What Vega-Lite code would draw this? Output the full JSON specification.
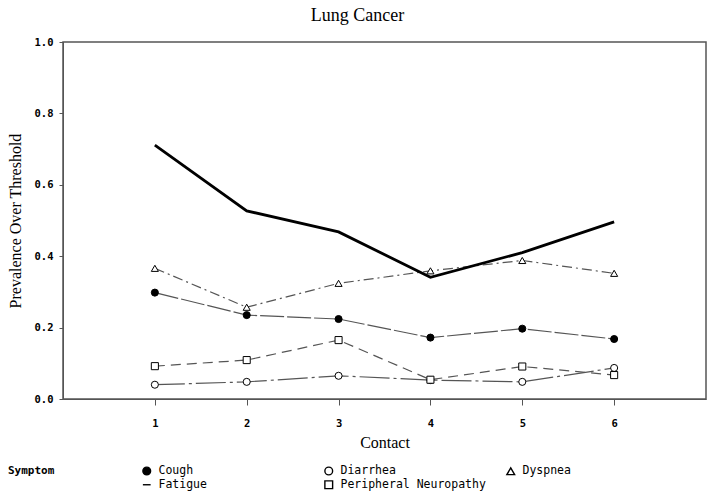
{
  "$schema": "https://vega.github.io/schema/vega-lite/v6.json",
  "width": 643,
  "height": 357,
  "autosize": {"type": "none"},
  "padding": {"left": 63, "top": 42, "right": 8, "bottom": 95},
  "background": "white",
  "title": {
    "text": "Lung Cancer",
    "font": "Liberation Serif",
    "fontSize": 18,
    "fontWeight": "normal",
    "color": "black",
    "anchor": "middle",
    "dx": -27,
    "offset": 12
  },
  "config": {
    "view": {"stroke": "#555", "strokeWidth": 1.5},
    "axis": {
      "labelFont": "DejaVu Sans Mono",
      "labelFontWeight": "bold",
      "labelFontSize": 10.5,
      "labelColor": "black",
      "titleFont": "Liberation Serif",
      "titleFontSize": 16,
      "titleFontWeight": "normal",
      "titleColor": "black",
      "domainColor": "#555",
      "tickColor": "#555",
      "grid": false
    }
  },
  "data": {
    "values": [
      {"Contact": 1, "Symptom": "Cough", "Prevalence": 0.298},
      {"Contact": 2, "Symptom": "Cough", "Prevalence": 0.235},
      {"Contact": 3, "Symptom": "Cough", "Prevalence": 0.224},
      {"Contact": 4, "Symptom": "Cough", "Prevalence": 0.172},
      {"Contact": 5, "Symptom": "Cough", "Prevalence": 0.197},
      {"Contact": 6, "Symptom": "Cough", "Prevalence": 0.168},
      {"Contact": 1, "Symptom": "Diarrhea", "Prevalence": 0.04},
      {"Contact": 2, "Symptom": "Diarrhea", "Prevalence": 0.048},
      {"Contact": 3, "Symptom": "Diarrhea", "Prevalence": 0.065},
      {"Contact": 4, "Symptom": "Diarrhea", "Prevalence": 0.053},
      {"Contact": 5, "Symptom": "Diarrhea", "Prevalence": 0.048},
      {"Contact": 6, "Symptom": "Diarrhea", "Prevalence": 0.087},
      {"Contact": 1, "Symptom": "Dyspnea", "Prevalence": 0.366},
      {"Contact": 2, "Symptom": "Dyspnea", "Prevalence": 0.257},
      {"Contact": 3, "Symptom": "Dyspnea", "Prevalence": 0.324},
      {"Contact": 4, "Symptom": "Dyspnea", "Prevalence": 0.359},
      {"Contact": 5, "Symptom": "Dyspnea", "Prevalence": 0.388},
      {"Contact": 6, "Symptom": "Dyspnea", "Prevalence": 0.352},
      {"Contact": 1, "Symptom": "Fatigue", "Prevalence": 0.711},
      {"Contact": 2, "Symptom": "Fatigue", "Prevalence": 0.527},
      {"Contact": 3, "Symptom": "Fatigue", "Prevalence": 0.468},
      {"Contact": 4, "Symptom": "Fatigue", "Prevalence": 0.341},
      {"Contact": 5, "Symptom": "Fatigue", "Prevalence": 0.41},
      {"Contact": 6, "Symptom": "Fatigue", "Prevalence": 0.496},
      {"Contact": 1, "Symptom": "Peripheral Neuropathy", "Prevalence": 0.092},
      {"Contact": 2, "Symptom": "Peripheral Neuropathy", "Prevalence": 0.109},
      {"Contact": 3, "Symptom": "Peripheral Neuropathy", "Prevalence": 0.165},
      {"Contact": 4, "Symptom": "Peripheral Neuropathy", "Prevalence": 0.054},
      {"Contact": 5, "Symptom": "Peripheral Neuropathy", "Prevalence": 0.091},
      {"Contact": 6, "Symptom": "Peripheral Neuropathy", "Prevalence": 0.067}
    ]
  },
  "encoding": {
    "x": {
      "field": "Contact",
      "type": "quantitative",
      "scale": {"domain": [0, 7], "nice": false, "zero": false},
      "axis": {
        "values": [1, 2, 3, 4, 5, 6],
        "format": "d",
        "title": "Contact",
        "tickSize": 6,
        "labelPadding": 13,
        "titlePadding": 6
      }
    },
    "y": {
      "field": "Prevalence",
      "type": "quantitative",
      "scale": {"domain": [0, 1], "nice": false},
      "axis": {
        "values": [0, 0.2, 0.4, 0.6, 0.8, 1.0],
        "format": ".1f",
        "title": "Prevalence Over Threshold",
        "tickSize": 4,
        "labelPadding": 6,
        "titlePadding": 11
      }
    }
  },
  "layer": [
    {
      "transform": [{"filter": "datum.Symptom !== 'Fatigue'"}],
      "mark": {"type": "line", "stroke": "#555555", "strokeWidth": 1.2},
      "encoding": {
        "strokeDash": {
          "field": "Symptom",
          "type": "nominal",
          "scale": {
            "domain": ["Cough", "Diarrhea", "Dyspnea", "Peripheral Neuropathy"],
            "range": [[24, 3], [30, 4, 3, 4], [10, 4, 2, 4], [10, 6]]
          },
          "legend": null
        }
      }
    },
    {
      "transform": [{"filter": "datum.Symptom === 'Fatigue'"}],
      "mark": {"type": "line", "stroke": "black", "strokeWidth": 2.8},
      "encoding": {"detail": {"field": "Symptom"}}
    },
    {
      "transform": [{"filter": "datum.Symptom !== 'Fatigue'"}],
      "mark": {"type": "point", "filled": true, "stroke": "black", "strokeWidth": 1, "size": 50, "opacity": 1},
      "encoding": {
        "shape": {
          "field": "Symptom",
          "type": "nominal",
          "title": "Symptom",
          "scale": {
            "domain": ["Cough", "Diarrhea", "Dyspnea", "Fatigue", "Peripheral Neuropathy"],
            "range": ["circle", "circle", "triangle-up", "stroke", "square"]
          },
          "legend": {
            "orient": "none",
            "legendX": -55,
            "legendY": 423,
            "direction": "horizontal",
            "columns": 3,
            "gridAlign": "all",
            "columnPadding": 18,
            "rowPadding": 0,
            "titleOrient": "left",
            "titleAnchor": "start",
            "titleBaseline": "top",
            "titlePadding": 86,
            "titleFont": "DejaVu Sans Mono",
            "titleFontSize": 11,
            "titleFontWeight": "bold",
            "titleColor": "black",
            "labelFont": "DejaVu Sans Mono",
            "labelFontSize": 11.5,
            "labelColor": "black",
            "labelOffset": 6,
            "symbolSize": 60,
            "symbolStrokeColor": "black",
            "symbolStrokeWidth": 1.4,
            "padding": 0
          }
        },
        "color": {
          "field": "Symptom",
          "type": "nominal",
          "title": "Symptom",
          "scale": {
            "domain": ["Cough", "Diarrhea", "Dyspnea", "Fatigue", "Peripheral Neuropathy"],
            "range": ["black", "white", "white", "white", "white"]
          },
          "legend": {
            "orient": "none",
            "legendX": -55,
            "legendY": 423,
            "direction": "horizontal",
            "columns": 3,
            "gridAlign": "all",
            "columnPadding": 18,
            "rowPadding": 0,
            "titleOrient": "left",
            "titleAnchor": "start",
            "titleBaseline": "top",
            "titlePadding": 86,
            "titleFont": "DejaVu Sans Mono",
            "titleFontSize": 11,
            "titleFontWeight": "bold",
            "titleColor": "black",
            "labelFont": "DejaVu Sans Mono",
            "labelFontSize": 11.5,
            "labelColor": "black",
            "labelOffset": 6,
            "symbolSize": 60,
            "symbolStrokeColor": "black",
            "symbolStrokeWidth": 1.4,
            "padding": 0
          }
        }
      }
    }
  ]
}
